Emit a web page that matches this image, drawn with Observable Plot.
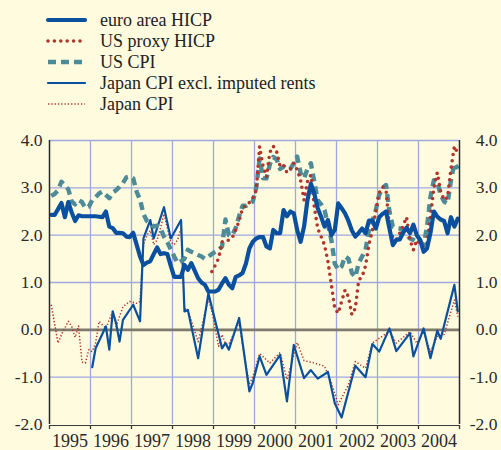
<!DOCTYPE html>
<html><head><meta charset="utf-8">
<script src="https://cdn.jsdelivr.net/npm/d3@7"></script>
<script src="https://cdn.jsdelivr.net/npm/@observablehq/plot@0.6"></script>
<style>
html,body{margin:0;padding:0;background:#FEFBDF;}
#wrap{position:relative;width:501px;height:450px;background:#FEFBDF;font-family:"Liberation Serif","Times New Roman",serif;color:#222;overflow:hidden;}
#chart{position:absolute;left:0;top:0;}
.row{position:absolute;left:0;height:22px;width:400px;}
.row svg{position:absolute;left:45px;top:6px;}
.row span{position:absolute;left:100px;top:0;font-size:18px;line-height:22px;white-space:nowrap;}
</style></head>
<body><div id="wrap"><div id="chart"></div><div id="legend"></div></div>
<script>
// ---- data (monthly, month index 0 = Jan 1995) ----
const seriesNames = ["euro area HICP","US proxy HICP","US CPI","Japan CPI excl. imputed rents","Japan CPI"];
const yTicks = [-2, -1, 0, 1, 2, 3, 4];
const yearLabels = [1995,1996,1997,1998,1999,2000,2001,2002,2003,2004];

const euroValues = [
 2.43,2.43,2.55,2.68,2.38,2.70,2.48,2.30,2.42,2.40,2.40,2.40,
 2.40,2.40,2.39,2.38,2.50,2.18,2.15,2.05,2.05,2.04,1.97,1.96,
 2.05,1.80,1.55,1.37,1.42,1.45,1.60,1.74,1.60,1.62,1.60,1.35,
 1.12,1.12,1.12,1.37,1.27,1.41,1.25,1.09,1.00,0.95,0.81,0.81,
 0.81,0.85,0.98,1.09,0.95,0.88,1.12,1.15,1.20,1.40,1.72,1.86,
 1.93,1.96,1.96,1.76,1.72,2.11,2.04,2.04,2.53,2.40,2.50,2.46,
 2.11,1.86,2.18,2.74,3.09,2.88,2.57,2.39,2.18,2.32,2.00,2.11,
 2.67,2.57,2.46,2.30,2.10,1.97,2.05,2.14,2.04,2.31,2.31,2.14,
 2.38,2.45,2.50,2.14,1.79,1.90,1.91,2.05,2.16,2.04,2.22,2.00,
 1.90,1.65,1.72,2.05,2.50,2.39,2.33,2.30,2.04,2.38,2.18,2.35];

const usCpiValues = [
 2.83,2.87,2.95,3.13,3.05,2.97,2.71,2.65,2.74,2.70,2.57,2.60,
 2.74,2.80,2.88,2.92,2.85,2.78,2.90,2.95,3.02,3.10,3.22,3.24,
 3.20,2.92,2.75,2.45,2.30,2.25,2.18,2.20,2.15,1.97,1.85,1.70,
 1.55,1.41,1.45,1.50,1.69,1.65,1.62,1.58,1.55,1.50,1.55,1.60,
 1.65,1.69,1.76,2.33,2.00,2.00,2.15,2.40,2.62,2.62,2.67,2.71,
 3.00,3.62,3.20,3.20,3.50,3.65,3.60,3.40,3.45,3.40,3.40,3.52,
 3.66,3.31,3.20,3.40,3.52,3.13,2.74,2.65,2.53,2.22,1.90,1.40,
 1.27,1.34,1.55,1.50,1.20,1.12,1.41,1.55,1.69,2.11,2.30,2.53,
 2.85,3.00,3.06,2.50,2.18,2.15,2.14,2.10,2.00,1.93,1.90,1.86,
 1.86,1.79,2.18,2.81,3.16,3.13,2.85,2.71,2.67,3.16,3.52,3.40];

const usProxyStart = 47; // Dec 1998
const usProxyValues = [
 1.23,1.36,1.51,1.86,1.86,1.90,1.95,2.11,2.30,2.57,2.62,2.69,2.78,
 2.95,3.87,3.46,3.23,3.75,3.88,3.76,3.45,3.48,3.32,3.40,3.52,
 3.38,3.16,2.74,3.13,3.27,2.60,2.14,1.97,1.79,1.44,0.95,0.45,
 0.35,0.60,0.84,0.70,0.32,0.45,1.05,1.12,1.35,1.80,2.10,2.50,
 2.90,3.02,2.95,2.14,1.95,1.90,2.04,2.20,2.38,1.90,1.69,1.90,
 1.80,1.75,1.83,2.40,3.00,3.32,2.92,2.74,2.80,3.40,3.88,3.73];

const japanExclMonths = [12,13,16,17,18,19,20,21,24,26,27,29,30,33,35,38,39,40,43,46,50,51,52,55,58,59,61,63,67,69,71,74,76,78,81,83,85,89,92,94,96,99,101,105,106,109,111,113,114,118,119];
const japanExclValues = [-0.79,-0.39,0.07,-0.42,0.39,0.14,-0.25,0.21,0.53,0.18,1.93,2.32,1.93,2.59,1.93,2.32,0.39,0.42,-0.60,0.77,-0.39,-0.28,-0.42,0.25,-1.30,-1.12,-0.56,-0.95,-0.53,-1.51,-0.32,-1.02,-0.85,-1.03,-0.89,-1.55,-1.85,-0.76,-1.00,-0.30,-0.46,0.03,-0.45,-0.07,-0.56,0.03,-0.60,-0.02,-0.19,0.95,0.39];

const japanCpiMonths = [0,2,3,5,6,7,8,9,10,11,12,13,14,16,18,19,21,23,25,26,27,28,29,30,31,32,33,34,35,36,37,38,39,40,43,46,47,49,50,51,52,55,57,58,59,61,64,67,69,72,74,77,80,82,84,87,89,92,94,96,99,101,105,107,109,111,113,115,118,119];
const japanCpiValues = [0.53,-0.28,-0.10,0.18,0.07,-0.16,0.08,-0.68,-0.70,-0.42,-0.46,-0.28,0.18,0.03,0.39,0.07,0.49,0.60,0.56,0.60,1.80,2.00,2.10,1.80,1.90,2.15,2.45,2.15,1.85,1.80,1.90,2.15,0.45,0.42,-0.25,0.65,0.40,-0.35,-0.10,-0.30,-0.30,0.15,-0.75,-1.15,-1.00,-0.50,-0.70,-0.48,-1.05,-0.27,-0.65,-0.70,-0.77,-1.12,-1.58,-1.16,-0.67,-0.81,-0.28,-0.18,-0.03,-0.28,-0.04,-0.28,-0.04,-0.46,-0.14,-0.10,0.63,0.28];

// ---- styles ----
const blue = "#0A509E", red = "#B3342C", teal = "#4E8B99";
const gridColor = "#9FA9DF";
const styles = [
  {stroke: blue, strokeWidth: 4.2, strokeDasharray: null, strokeLinecap: "round"},
  {stroke: red, strokeWidth: 3.6, strokeDasharray: "0,6.4", strokeLinecap: "round"},
  {stroke: teal, strokeWidth: 4.4, strokeDasharray: "8,5", strokeLinecap: "butt"},
  {stroke: blue, strokeWidth: 2.2, strokeDasharray: null, strokeLinecap: "round"},
  {stroke: red, strokeWidth: 1.5, strokeDasharray: "1.3,2", strokeLinecap: "butt"}
];

const t = m => 1995 + (m + 0.5) / 12;
const euro = euroValues.map((v, i) => ({t: t(i), v}));
const usCpi = usCpiValues.map((v, i) => ({t: t(i), v}));
const usProxy = usProxyValues.map((v, i) => ({t: t(usProxyStart + i), v}));
const japanExcl = japanExclMonths.map((m, i) => ({t: t(m), v: japanExclValues[i]}));
const japanCpi = japanCpiMonths.map((m, i) => ({t: t(m), v: japanCpiValues[i]}));

const yearBounds = d3.range(1995, 2006);
const fmt = d => d.toFixed(1);

const lineMark = (data, s) => Plot.line(data, {x: "t", y: "v", stroke: s.stroke, strokeWidth: s.strokeWidth,
  strokeDasharray: s.strokeDasharray || undefined, strokeLinecap: s.strokeLinecap, strokeLinejoin: "round"});

const chart = Plot.plot({
  width: 501, height: 450,
  marginLeft: 49, marginRight: 42, marginTop: 140, marginBottom: 26,
  x: {type: "linear", domain: [1995, 2005]},
  y: {type: "linear", domain: [-2, 4]},
  style: {background: "transparent", fontFamily: "'Liberation Serif', 'Times New Roman', serif", fontSize: "17.5px", color: "#2a2a2a"},
  marks: [
    Plot.ruleX(yearBounds.slice(1, -1), {stroke: gridColor, strokeWidth: 1.3}),
    Plot.ruleY(yTicks.filter(d => d !== 0 && d !== -2), {stroke: gridColor, strokeWidth: 1.3}),
    Plot.ruleY([0], {stroke: "#7E7A6E", strokeWidth: 2.6}),
    lineMark(japanCpi, styles[4]),
    lineMark(japanExcl, styles[3]),
    lineMark(usCpi, styles[2]),
    lineMark(usProxy, styles[1]),
    lineMark(euro, styles[0]),
    Plot.ruleX([1995, 2005], {stroke: "#2a2a2a", strokeWidth: 1.5}),
    Plot.ruleY([-2], {stroke: "#3a3a3a", strokeWidth: 1.2, dy: 1}),
    Plot.axisX(yearBounds, {tickSize: 4, tickPadding: 0, tickFormat: () => "", stroke: "#3a3a3a", strokeWidth: 1.3, dy: 1, label: null}),
    Plot.axisY(yTicks, {anchor: "left", tickSize: 0, tickPadding: 7, tickFormat: fmt, fontSize: 17.5, label: null}),
    Plot.axisY(yTicks, {anchor: "right", tickSize: 0, tickPadding: 38, textAnchor: "end", tickFormat: fmt, fontSize: 17.5, label: null}),
    Plot.axisX(yearLabels.map(y => y + 0.5), {tickSize: 0, tickPadding: 10, tickFormat: d => String(Math.floor(d)), fontSize: 18, label: null})
  ]
});
document.getElementById("chart").appendChild(chart);

// ---- legend ----
const legend = document.getElementById("legend");
seriesNames.forEach((name, i) => {
  const s = styles[i];
  const row = document.createElement("div");
  row.className = "row";
  row.style.top = (9 + 21 * i) + "px";
  const dash = s.strokeDasharray ? `stroke-dasharray="${s.strokeDasharray}"` : "";
  row.innerHTML = `<svg width="44" height="10"><line x1="3" x2="40" y1="5" y2="5" stroke="${s.stroke}" stroke-width="${s.strokeWidth}" stroke-linecap="${s.strokeLinecap}" ${dash}/></svg><span>${name}</span>`;
  legend.appendChild(row);
});
</script></body></html>
